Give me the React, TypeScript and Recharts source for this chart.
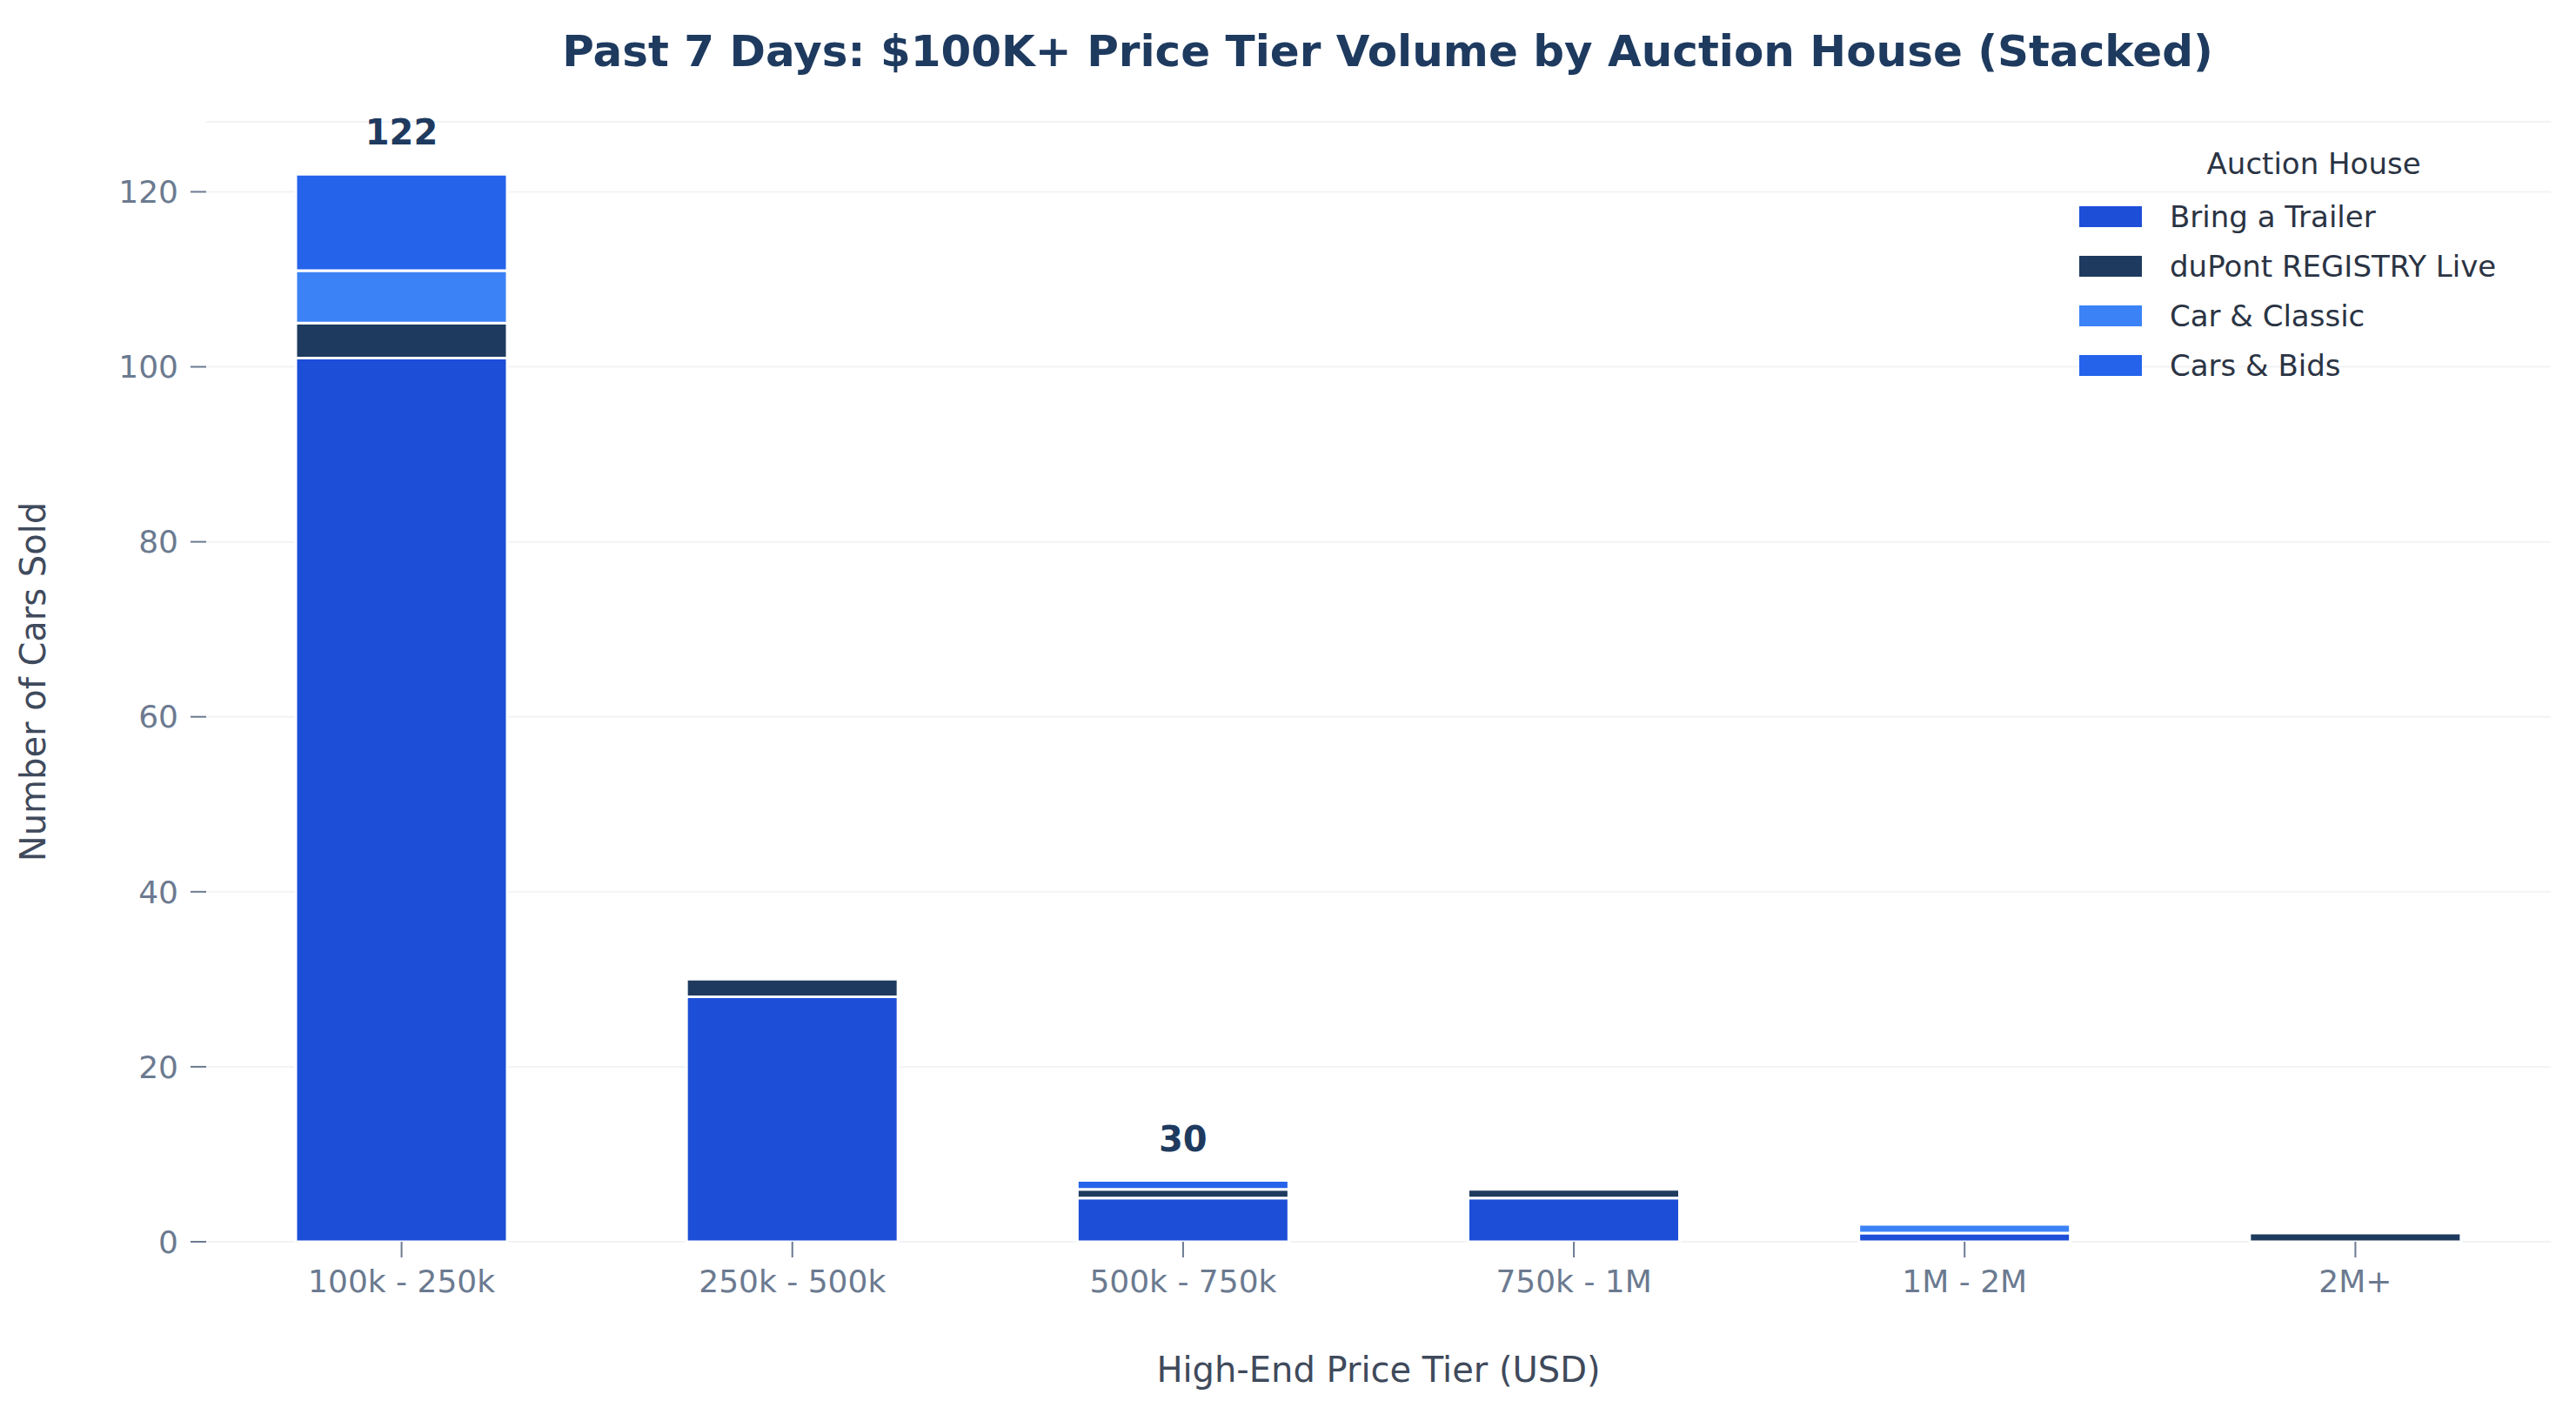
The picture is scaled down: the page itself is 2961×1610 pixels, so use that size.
import { BarChart, Bar, XAxis, YAxis, CartesianGrid, LabelList, Label } from "recharts";

const TIERS = ["100k - 250k", "250k - 500k", "500k - 750k", "750k - 1M", "1M - 2M", "2M+"];
const BRING_A_TRAILER = [101, 28, 5, 5, 1, 0];
const DUPONT = [4, 2, 1, 1, 0, 1];
const CAR_CLASSIC = [6, 0, 0, 0, 1, 0];
const CARS_BIDS = [11, 0, 1, 0, 0, 0];
const Y_TICKS = [0, 20, 40, 60, 80, 100, 120];

const SERIES = [
  { key: "bat", name: "Bring a Trailer", color: "#1d4ed8" },
  { key: "dupont", name: "duPont REGISTRY Live", color: "#1e3a5f" },
  { key: "cc", name: "Car & Classic", color: "#3b82f6" },
  { key: "cb", name: "Cars & Bids", color: "#2563eb" },
];

const data = TIERS.map((tier, i) => ({
  tier,
  bat: BRING_A_TRAILER[i],
  dupont: DUPONT[i],
  cc: CAR_CLASSIC[i],
  cb: CARS_BIDS[i],
  total: BRING_A_TRAILER[i] + DUPONT[i] + CAR_CLASSIC[i] + CARS_BIDS[i],
}));

const FONT = "DejaVu Sans, sans-serif";
const TICK = { fontSize: 36, fill: "#6b7a90", fontFamily: FONT };

function TotalLabel(props: any) {
  const { x, y, width, index } = props;
  return (
    <text x={x + width / 2} y={y - 34} textAnchor="middle" fontSize={40} fontWeight="bold" fill="#1e3a5f" fontFamily={FONT}>
      {data[index].total}
    </text>
  );
}

export default function App() {
  return (
    <div style={{ position: "relative", width: 2945, height: 1594, fontFamily: FONT }}>
      <div style={{ position: "absolute", left: 0, width: 3174, top: 22, textAlign: "center", fontSize: 50, fontWeight: "bold", color: "#1e3a5f" }}>
        Past 7 Days: $100K+ Price Tier Volume by Auction House (Stacked)
      </div>
      <BarChart width={2945} height={1594} data={data} margin={{ top: 132, right: 21, left: 0, bottom: 0 }}>
        <CartesianGrid vertical={false} stroke="#f1f3f6" strokeWidth={2} />
        <XAxis dataKey="tier" height={175} tick={TICK} tickSize={18} tickMargin={14} axisLine={false}
          tickLine={{ stroke: "#6b7a90", strokeWidth: 2 }} interval={0}>
          <Label value="High-End Price Tier (USD)" position="insideBottom" offset={14} style={{ fontSize: 40, fill: "#3f4a5c", fontFamily: FONT }} />
        </XAxis>
        <YAxis width={229} domain={[0, 128]} ticks={Y_TICKS} tick={TICK} tickSize={18} tickMargin={14} axisLine={false}
          tickLine={{ stroke: "#6b7a90", strokeWidth: 2 }}>
          <Label value="Number of Cars Sold" angle={-90} position="insideLeft" offset={30} style={{ fontSize: 40, fill: "#3f4a5c", fontFamily: FONT, textAnchor: "middle" }} />
        </YAxis>
        {SERIES.map((s, i) => (
          <Bar key={s.key} dataKey={s.key} name={s.name} stackId="a" fill={s.color} stroke="#ffffff" strokeWidth={3}
            barSize={243} isAnimationActive={false}>
            {i === SERIES.length - 1 && <LabelList dataKey="total" content={<TotalLabel />} />}
          </Bar>
        ))}
      </BarChart>
      <div style={{ position: "absolute", left: 2382, top: 160, fontSize: 34, color: "#2b3444" }}>
        <div style={{ textAlign: "center", marginBottom: 12, paddingLeft: 60 }}>Auction House</div>
        {SERIES.map((s) => (
          <div key={s.key} style={{ display: "flex", alignItems: "center", height: 57 }}>
            <span style={{ width: 72, height: 24, background: s.color, marginRight: 32 }} />
            {s.name}
          </div>
        ))}
      </div>
    </div>
  );
}
